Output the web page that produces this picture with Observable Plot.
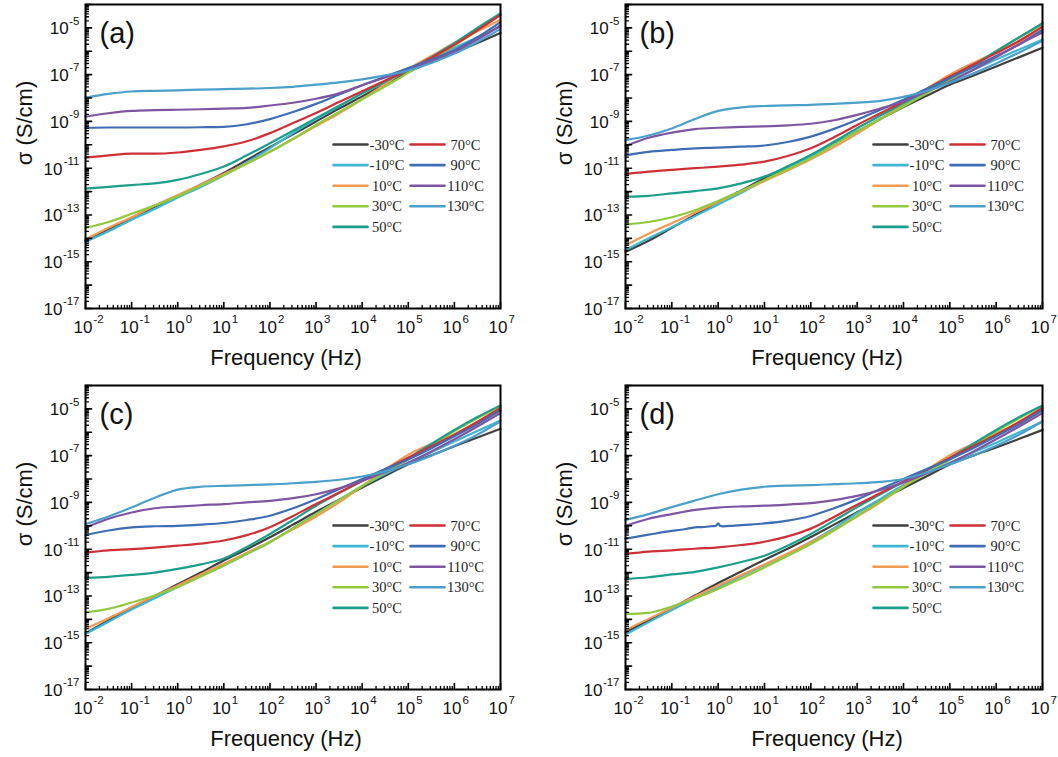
<!DOCTYPE html>
<html><head><meta charset="utf-8">
<script src="https://cdn.jsdelivr.net/npm/d3@7"></script>
<script src="https://cdn.jsdelivr.net/npm/@observablehq/plot@0.6"></script>
<style>
html,body{margin:0;padding:0;background:#fff;}
#wrap{position:relative;width:1058px;height:757px;overflow:hidden;}
#wrap svg{position:absolute;background:#fff;}
</style></head><body><div id="wrap"></div>
<script>
// Temperatures (legend) and their colours
const temps = ["-30°C","-10°C","10°C","30°C","50°C","70°C","90°C","110°C","130°C"];
const colors = ["#404040","#3fb7d2","#f29a52","#92c83e","#1b9e8a","#cf2f36","#3f6db3","#7d55a3","#4b9fcb"];

// Frequency grid, log10(Hz)
const freqExp = [-2,-1.5,-1,-0.5,0,0.5,1,1.5,2,2.5,3,3.5,4,4.5,5,5.5,6,6.5,7];

// log10 σ (S/cm), one row per temperature
const logSigmaA = [
  [-14.1,-13.6,-13.15,-12.65,-12.2,-11.7,-11.2,-10.65,-10.1,-9.55,-9.0,-8.45,-7.93,-7.4,-6.88,-6.45,-6.05,-5.65,-5.22],
  [-14.15,-13.7,-13.2,-12.75,-12.25,-11.8,-11.3,-10.75,-10.15,-9.5,-8.9,-8.35,-7.8,-7.3,-6.8,-6.3,-5.85,-5.4,-4.95],
  [-14.05,-13.55,-13.1,-12.6,-12.15,-11.7,-11.25,-10.8,-10.3,-9.75,-9.2,-8.65,-8.05,-7.4,-6.75,-6.2,-5.65,-5.15,-4.65],
  [-13.55,-13.3,-12.95,-12.6,-12.2,-11.75,-11.3,-10.8,-10.3,-9.75,-9.15,-8.6,-8.05,-7.5,-6.92,-6.35,-5.75,-5.1,-4.4],
  [-11.87,-11.8,-11.72,-11.65,-11.5,-11.25,-10.93,-10.45,-9.93,-9.4,-8.86,-8.33,-7.8,-7.3,-6.8,-6.25,-5.65,-5.0,-4.38],
  [-10.55,-10.45,-10.38,-10.38,-10.33,-10.22,-10.07,-9.85,-9.5,-9.07,-8.64,-8.17,-7.71,-7.25,-6.8,-6.28,-5.72,-5.1,-4.45],
  [-9.27,-9.26,-9.26,-9.26,-9.26,-9.25,-9.23,-9.12,-8.9,-8.6,-8.25,-7.85,-7.45,-7.08,-6.72,-6.35,-5.95,-5.4,-4.75],
  [-8.8,-8.65,-8.55,-8.52,-8.5,-8.48,-8.45,-8.42,-8.32,-8.2,-8.03,-7.8,-7.45,-7.12,-6.8,-6.42,-6.0,-5.5,-4.9],
  [-7.98,-7.82,-7.72,-7.69,-7.67,-7.64,-7.62,-7.6,-7.57,-7.52,-7.43,-7.33,-7.2,-7.03,-6.82,-6.5,-6.1,-5.6,-5.05]
];
const logSigmaB = [
  [-14.57,-14.1,-13.55,-13.0,-12.45,-11.95,-11.43,-10.95,-10.45,-9.95,-9.43,-8.9,-8.38,-7.9,-7.43,-7.05,-6.65,-6.25,-5.85],
  [-14.5,-14.0,-13.52,-13.05,-12.55,-12.05,-11.52,-11.0,-10.5,-9.97,-9.43,-8.88,-8.3,-7.75,-7.25,-6.8,-6.35,-5.92,-5.5],
  [-14.3,-13.8,-13.35,-12.9,-12.45,-12.0,-11.55,-11.1,-10.62,-10.1,-9.52,-8.9,-8.25,-7.6,-7.0,-6.5,-6.05,-5.6,-5.1],
  [-13.4,-13.3,-13.1,-12.8,-12.4,-11.97,-11.5,-11.05,-10.57,-10.0,-9.43,-8.9,-8.36,-7.8,-7.22,-6.62,-6.0,-5.4,-4.85],
  [-12.22,-12.18,-12.08,-11.98,-11.86,-11.65,-11.36,-10.92,-10.43,-9.87,-9.29,-8.75,-8.21,-7.68,-7.15,-6.6,-6.0,-5.4,-4.8],
  [-11.25,-11.15,-11.07,-11.0,-10.93,-10.85,-10.72,-10.48,-10.15,-9.68,-9.15,-8.65,-8.15,-7.62,-7.08,-6.58,-6.08,-5.55,-4.95],
  [-10.45,-10.3,-10.22,-10.15,-10.12,-10.08,-10.03,-9.88,-9.65,-9.32,-8.93,-8.5,-8.07,-7.6,-7.14,-6.68,-6.2,-5.7,-5.08],
  [-10.05,-9.7,-9.48,-9.33,-9.27,-9.23,-9.21,-9.17,-9.1,-8.95,-8.72,-8.45,-8.14,-7.72,-7.3,-6.8,-6.25,-5.7,-5.2],
  [-9.8,-9.6,-9.3,-8.9,-8.55,-8.4,-8.34,-8.31,-8.29,-8.25,-8.2,-8.12,-7.95,-7.7,-7.35,-6.95,-6.52,-6.05,-5.55]
];
const logSigmaC = [
  [-14.6,-14.05,-13.54,-13.0,-12.5,-12.0,-11.48,-11.0,-10.49,-9.95,-9.4,-8.88,-8.36,-7.86,-7.37,-6.98,-6.6,-6.22,-5.85],
  [-14.62,-14.1,-13.58,-13.1,-12.62,-12.15,-11.7,-11.2,-10.7,-10.1,-9.5,-8.9,-8.3,-7.78,-7.3,-6.85,-6.4,-5.95,-5.5],
  [-14.4,-13.95,-13.47,-13.0,-12.55,-12.08,-11.62,-11.15,-10.68,-10.15,-9.6,-9.0,-8.3,-7.6,-6.96,-6.5,-6.08,-5.6,-5.1],
  [-13.7,-13.55,-13.28,-12.98,-12.62,-12.17,-11.7,-11.2,-10.7,-10.1,-9.5,-8.9,-8.3,-7.72,-7.16,-6.56,-5.95,-5.4,-4.88],
  [-12.23,-12.18,-12.1,-12.0,-11.84,-11.65,-11.4,-10.9,-10.35,-9.75,-9.14,-8.6,-8.08,-7.6,-7.1,-6.5,-5.9,-5.35,-4.85],
  [-11.15,-11.05,-11.0,-10.93,-10.85,-10.76,-10.63,-10.4,-10.06,-9.58,-9.07,-8.58,-8.08,-7.58,-7.09,-6.6,-6.1,-5.55,-4.96],
  [-10.4,-10.2,-10.07,-10.02,-10.0,-9.95,-9.88,-9.75,-9.57,-9.25,-8.86,-8.43,-8.0,-7.57,-7.16,-6.68,-6.17,-5.65,-5.05],
  [-10.08,-9.7,-9.43,-9.25,-9.18,-9.12,-9.07,-9.0,-8.93,-8.82,-8.65,-8.4,-8.08,-7.7,-7.3,-6.82,-6.3,-5.75,-5.18],
  [-9.93,-9.6,-9.22,-8.8,-8.45,-8.33,-8.29,-8.26,-8.23,-8.18,-8.12,-8.03,-7.89,-7.67,-7.37,-7.0,-6.58,-6.1,-5.53]
];
const logSigmaD = [
  [-14.55,-14.05,-13.52,-12.98,-12.45,-11.95,-11.45,-10.98,-10.48,-9.95,-9.42,-8.9,-8.38,-7.88,-7.38,-7.0,-6.65,-6.28,-5.9],
  [-14.65,-14.12,-13.6,-13.1,-12.62,-12.15,-11.68,-11.2,-10.68,-10.1,-9.45,-8.85,-8.25,-7.75,-7.3,-6.87,-6.45,-6.0,-5.55],
  [-14.45,-13.98,-13.5,-13.02,-12.55,-12.1,-11.65,-11.18,-10.7,-10.17,-9.6,-9.0,-8.3,-7.62,-6.98,-6.5,-6.05,-5.6,-5.1],
  [-13.77,-13.72,-13.45,-13.1,-12.7,-12.25,-11.78,-11.28,-10.78,-10.2,-9.57,-8.95,-8.33,-7.75,-7.17,-6.58,-5.97,-5.4,-4.88],
  [-12.28,-12.2,-12.08,-11.97,-11.78,-11.55,-11.28,-10.85,-10.35,-9.78,-9.2,-8.65,-8.13,-7.62,-7.1,-6.5,-5.9,-5.35,-4.86],
  [-11.2,-11.1,-11.05,-10.98,-10.92,-10.82,-10.68,-10.45,-10.12,-9.62,-9.1,-8.6,-8.1,-7.6,-7.1,-6.6,-6.1,-5.55,-4.96],
  null, // 90 °C has its own, denser sampling below
  [-10.0,-9.7,-9.5,-9.32,-9.22,-9.17,-9.14,-9.09,-9.03,-8.9,-8.72,-8.47,-8.15,-7.75,-7.32,-6.83,-6.3,-5.75,-5.18],
  [-9.75,-9.5,-9.2,-8.92,-8.65,-8.45,-8.33,-8.28,-8.26,-8.22,-8.18,-8.12,-8.0,-7.72,-7.37,-7.0,-6.58,-6.1,-5.53]
];
// Panel (d), 90 °C: noisy trace with a small spike near 1 Hz
const freqExpD90 = [-2,-1.5,-1,-0.8,-0.6,-0.45,-0.3,-0.15,-0.05,0,0.04,0.1,0.3,0.5,1,1.5,2,2.5,3,3.5,4,4.5,5,5.5,6,6.5,7];
const logSigmaD90 = [-10.55,-10.38,-10.22,-10.17,-10.1,-10.06,-10.05,-10.02,-10.0,-9.9,-10.0,-10.02,-10.0,-9.97,-9.9,-9.78,-9.58,-9.25,-8.87,-8.43,-8.0,-7.57,-7.15,-6.68,-6.17,-5.65,-5.05];

// Axis ticks (log10)
const xMajorExp = [-2,-1,0,1,2,3,4,5,6,7];
const yMajorExp = [-17,-16,-15,-14,-13,-12,-11,-10,-9,-8,-7,-6,-5,-4];
const yLabelExp = [-17,-15,-13,-11,-9,-7,-5];
const minorMult = [2,3,4,5,6,7,8,9];

const panelIds = ["(a)","(b)","(c)","(d)"];
const panelData = [logSigmaA, logSigmaB, logSigmaC, logSigmaD];

const xMajor = xMajorExp.map(e => 10 ** e);
const xMinor = xMajorExp.slice(0, -1).flatMap(e => minorMult.map(m => m * 10 ** e));
const yMajor = yMajorExp.map(e => 10 ** e);
const yMinor = yMajorExp.slice(0, -1).flatMap(e => minorMult.map(m => m * 10 ** e));
const expOf = v => String(Math.round(Math.log10(v)));

const lineShape = {draw(ctx, l) { ctx.moveTo(0, 0); ctx.lineTo(0, -l); }};
const SANS = "'Liberation Sans', Arial, sans-serif";
const BASE = 17, SUPF = 11.5;
const supWidth = s => [...s].reduce((w, c) => w + (c === "-" ? 0.333 : 0.556) * SUPF, 0);

const layout = [
  {left: 0,   top: 0,   h: 378, ml: 85, mr: 29, mt: 4, mb: 70},
  {left: 529, top: 0,   h: 378, ml: 96, mr: 16, mt: 4, mb: 70},
  {left: 0,   top: 378, h: 379, ml: 85, mr: 29, mt: 7, mb: 68},
  {left: 529, top: 378, h: 379, ml: 96, mr: 16, mt: 7, mb: 68}
];

const wrap = document.getElementById("wrap");

panelData.forEach((series, p) => {
  const L = layout[p];
  const rows = [];
  series.forEach((vals, i) => {
    if (vals) vals.forEach((v, j) => rows.push({f: 10 ** freqExp[j], s: 10 ** v, t: temps[i]}));
    else logSigmaD90.forEach((v, j) => rows.push({f: 10 ** freqExpD90[j], s: 10 ** v, t: temps[i]}));
  });

  const legendMarks = temps.flatMap((t, i) => {
    const col = i < 5 ? 0 : 1, row = i < 5 ? i : i - 5;
    const ly = 140 + row * 20.6;
    const lx = col === 0 ? 248 : 325;
    const tx = col === 0 ? 301.5 : 380;
    return [
      Plot.vector([0], {frameAnchor: "top-left", dx: lx, dy: ly, length: 34, rotate: 90, anchor: "start",
        shape: lineShape, stroke: colors[i], strokeWidth: 2.6}),
      Plot.text([t], {frameAnchor: "top-left", dx: tx, dy: ly + 0.5, text: d => d, textAnchor: "middle",
        lineAnchor: "middle", fontFamily: "'Liberation Serif','Times New Roman',serif", fontSize: 14.5, fill: "#222"})
    ];
  });

  // y tick labels: "10" plus a raised exponent, right-aligned against the axis
  const yLabelMarks = yLabelExp.flatMap(e => {
    const s = String(e);
    const w = supWidth(s);
    return [
      Plot.text([10 ** e], {y: d => d, frameAnchor: "left", dx: -6, dy: -7, text: () => s, textAnchor: "end",
        lineAnchor: "middle", fontSize: SUPF, fill: "#111"}),
      Plot.text([10 ** e], {y: d => d, frameAnchor: "left", dx: -6 - w - 0.5, dy: 1, text: () => "10", textAnchor: "end",
        lineAnchor: "middle", fontSize: BASE, fill: "#111"})
    ];
  });

  const chart = Plot.plot({
    width: 529, height: L.h,
    marginLeft: L.ml, marginRight: L.mr, marginTop: L.mt, marginBottom: L.mb,
    style: {fontFamily: SANS, fontSize: BASE + "px", color: "#111", background: "#fff"},
    x: {type: "log", domain: [1e-2, 1e7], axis: null},
    y: {type: "log", domain: [1e-17, 1e-4], axis: null},
    color: {domain: temps, range: colors},
    marks: [
      Plot.line(rows, {x: "f", y: "s", z: "t", stroke: "t", strokeWidth: 2.2, curve: "monotone-x"}),
      // inward ticks
      Plot.vector(xMinor, {x: d => d, frameAnchor: "bottom", length: 3, anchor: "start", shape: lineShape, stroke: "#000", strokeWidth: 1.3}),
      Plot.vector(xMajor, {x: d => d, frameAnchor: "bottom", length: 6, anchor: "start", shape: lineShape, stroke: "#000", strokeWidth: 1.6}),
      Plot.vector(yMinor, {y: d => d, frameAnchor: "left", length: 3, rotate: 90, anchor: "start", shape: lineShape, stroke: "#000", strokeWidth: 1.3}),
      Plot.vector(yMajor, {y: d => d, frameAnchor: "left", length: 6, rotate: 90, anchor: "start", shape: lineShape, stroke: "#000", strokeWidth: 1.6}),
      // x tick labels
      Plot.text(xMajor, {x: d => d, frameAnchor: "bottom", dx: 7, dy: 19, text: () => "10", textAnchor: "end", lineAnchor: "middle", fontSize: BASE, fill: "#111"}),
      Plot.text(xMajor, {x: d => d, frameAnchor: "bottom", dx: 8, dy: 10.5, text: expOf, textAnchor: "start", lineAnchor: "middle", fontSize: SUPF, fill: "#111"}),
      ...yLabelMarks,
      Plot.frame({stroke: "#000", strokeWidth: 2}),
      Plot.text(["Frequency (Hz)"], {frameAnchor: "bottom", dx: -7, dy: 49, text: d => d, fontSize: 22, lineAnchor: "middle", fill: "#111"}),
      Plot.text([1e-11], {y: d => d, frameAnchor: "left", dx: -61, dy: -3, rotate: -90, text: () => "σ (S/cm)", fontSize: 22, lineAnchor: "middle", fill: "#111"}),
      Plot.text([panelIds[p]], {frameAnchor: "top-left", dx: 14, dy: 29.5, text: d => d, textAnchor: "start", lineAnchor: "middle", fontSize: 29, fill: "#111"}),
      ...legendMarks
    ]
  });
  chart.style.left = L.left + "px";
  chart.style.top = L.top + "px";
  wrap.appendChild(chart);
});
</script>
</body></html>
